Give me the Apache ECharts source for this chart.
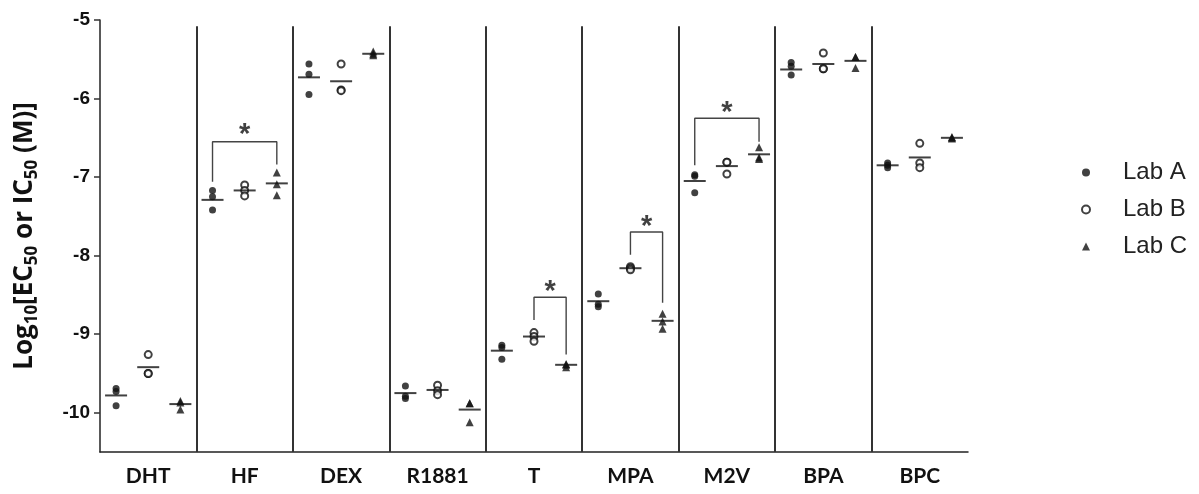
<!DOCTYPE html>
<html><head><meta charset="utf-8">
<script src="https://cdn.jsdelivr.net/npm/echarts@6/dist/echarts.min.js"></script>
<style>html,body{margin:0;padding:0;background:#fff}#c{width:1199px;height:494px}</style>
</head><body><div id="c"></div>
<script>
const groups = ['DHT','HF','DEX','R1881','T','MPA','M2V','BPA','BPC'];
const labNames = ['Lab A','Lab B','Lab C'];
const yTickValues = [-10,-9,-8,-7,-6,-5];

const labA = [[-9.69,-9.73,-9.91],[-7.17,-7.25,-7.42],[-5.56,-5.69,-5.95],[-9.66,-9.79,-9.82],[-9.14,-9.17,-9.32],[-8.49,-8.62,-8.65],[-6.97,-6.99,-7.20],[-5.54,-5.59,-5.70],[-6.82,-6.85,-6.88]];
const labB = [[-9.26,-9.50,-9.50],[-7.10,-7.17,-7.24],[-5.56,-5.89,-5.90],[-9.65,-9.72,-9.77],[-8.98,-9.03,-9.09],[-8.14,-8.16,-8.18],[-6.81,-6.81,-6.96],[-5.42,-5.62,-5.62],[-6.57,-6.82,-6.88]];
const labC = [[-9.85,-9.87,-9.96],[-6.94,-7.09,-7.23],[-5.40,-5.43,-5.45],[-9.88,-9.88,-10.12],[-9.38,-9.39,-9.42],[-8.74,-8.84,-8.93],[-6.62,-6.75,-6.77],[-5.47,-5.47,-5.61],[-6.49,-6.50,-6.51]];
const meanA = [-9.78,-7.29,-5.73,-9.75,-9.21,-8.58,-7.05,-5.63,-6.85];
const meanB = [-9.42,-7.17,-5.78,-9.71,-9.03,-8.16,-6.86,-5.56,-6.75];
const meanC = [-9.89,-7.08,-5.43,-9.96,-9.39,-8.83,-6.71,-5.52,-6.50];

// significance brackets: group index, from lab, to lab, bracket top, left leg end, right leg end, star y
const bracketGroup = [1,4,5,6];
const bracketFrom  = [0,1,1,0];
const bracketTo    = [2,2,2,2];
const bracketTop   = [-6.55,-8.53,-7.70,-6.25];
const bracketLeft  = [-7.06,-8.82,-7.99,-6.85];
const bracketRight = [-6.84,-9.26,-8.60,-6.55];
const starY        = [-6.37,-8.37,-7.55,-6.10];

const yMin = -10.5, yMax = -5, sepTop = -5.08;

const slots = [];
groups.forEach(g => { slots.push('', g, ''); });
const xOf = (g, lab) => g*3 + lab + 0.5;

function pts(arr, lab){ const d=[]; arr.forEach((vals,g)=>vals.forEach(v=>d.push([xOf(g,lab),v]))); return d; }
const meanData = [];
[meanA,meanB,meanC].forEach((m,lab)=>m.forEach((v,g)=>meanData.push([xOf(g,lab),v])));

const sepLines = [];
for (let g=1; g<groups.length; g++) sepLines.push([{coord:[g*3,yMin]},{coord:[g*3,sepTop]}]);

const series = [];
const markerDefs = [
  {symbol:'circle', size:7},
  {symbol:'emptyCircle', size:7},
  {symbol:'triangle', size:8}
];
[labA,labB,labC].forEach((arr,lab)=>{
  series.push({
    name: labNames[lab], type:'scatter', xAxisIndex:1, yAxisIndex:0,
    symbol: markerDefs[lab].symbol, symbolSize: markerDefs[lab].size,
    itemStyle:{color:'#111', borderWidth: lab===1?1.7:0, borderColor:'#111'},
    data: pts(arr, lab), z:3
  });
});
series.push({
  name:'mean', type:'scatter', xAxisIndex:1, symbol:'rect', symbolSize:[22,2],
  itemStyle:{color:'#111'}, data: meanData, z:4, silent:true
});
series.push({
  name:'sep', type:'line', xAxisIndex:1, data:[], silent:true,
  markLine:{symbol:'none', silent:true, label:{show:false}, lineStyle:{color:'#333', width:2, type:'solid'}, data: sepLines, animation:false}
});
bracketGroup.forEach((g,i)=>{
  const x1 = xOf(g,bracketFrom[i]), x2 = xOf(g,bracketTo[i]);
  series.push({
    type:'line', xAxisIndex:1, symbol:'none', silent:true,
    lineStyle:{color:'#444', width:1.4},
    data:[[x1,bracketLeft[i]],[x1,bracketTop[i]],[x2,bracketTop[i]],[x2,bracketRight[i]]]
  });
  series.push({
    type:'scatter', xAxisIndex:1, symbolSize:0, silent:true,
    data:[[(x1+x2)/2, starY[i]]],
    label:{show:true, position:'inside', formatter:'*', color:'#111', fontSize:29, fontWeight:'bold', fontFamily:'Liberation Sans', offset:[0,7]}
  });
});

const chart = echarts.init(document.getElementById('c'), null, {renderer:'canvas'});
chart.setOption({
  animation:false,
  backgroundColor:'#fff',
  grid:{left:100, right:231, top:20, bottom:42},
  legend:{
    data: labNames, orient:'vertical', left:1076, top:155,
    itemWidth:8, itemHeight:8, itemGap:12,
    textStyle:{fontSize:24, fontFamily:'Liberation Sans', color:'#222', padding:[0,0,0,28], lineHeight:25}
  },
  xAxis:[
    {type:'category', data: slots, boundaryGap:true,
     axisLine:{lineStyle:{color:'#222', width:1.5}},
     axisTick:{alignWithLabel:true, interval:0, length:7, lineStyle:{color:'#333', width:1.5}},
     axisLabel:{interval:(i)=>i%3===1, fontSize:21, fontWeight:'bold', fontFamily:'Lato', color:'#111', margin:14}
    },
    {type:'value', min:0, max:27, show:false}
  ],
  yAxis:{
    type:'value', min:yMin, max:yMax,
    splitLine:{show:false},
    axisLine:{show:true, lineStyle:{color:'#222', width:1.5}},
    axisTick:{show:true, length:6, customValues: yTickValues, lineStyle:{color:'#333', width:1.5}},
    axisLabel:{customValues: yTickValues, fontSize:19, fontWeight:'bold', fontFamily:'Liberation Sans', color:'#111', margin:10},
    name:'{a|Log}{s|10}{a|[EC}{s|50}{a| or IC}{s|50}{a| (M)]}',
    nameLocation:'middle', nameRotate:90, nameGap:59,
    nameTextStyle:{rich:{
      a:{fontSize:26, fontWeight:'bold', fontFamily:'Open Sans', color:'#111', lineHeight:32},
      s:{fontSize:17, fontWeight:'bold', fontFamily:'Open Sans', color:'#111', verticalAlign:'bottom', lineHeight:32}
    }}
  },
  series
});
</script></body></html>
